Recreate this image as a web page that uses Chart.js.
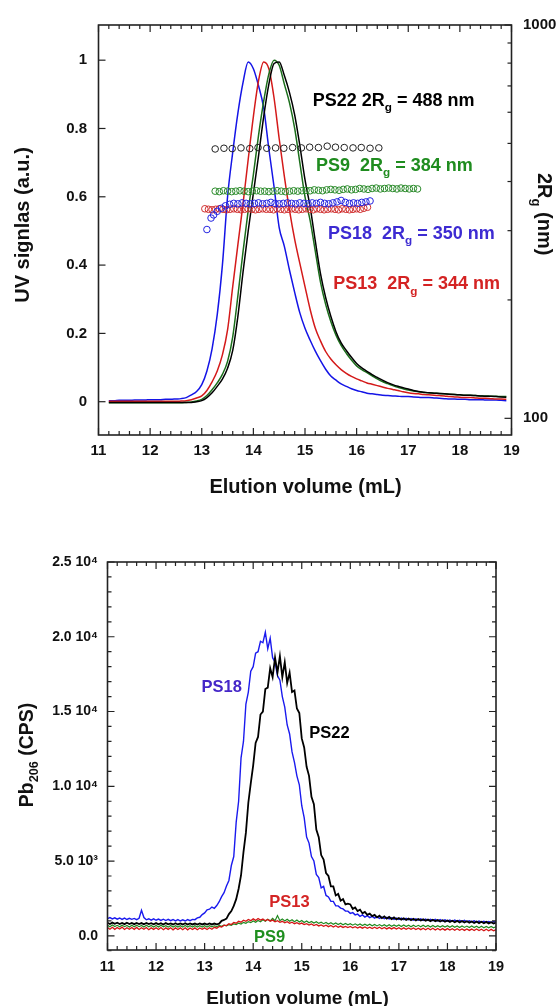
<!DOCTYPE html>
<html>
<head>
<meta charset="utf-8">
<script src="https://cdn.jsdelivr.net/npm/chart.js@4.4.1/dist/chart.umd.min.js"></script>
<style>
html, body { margin: 0; padding: 0; background: #fff; }
canvas { display: block; }
</style>
</head>
<body>
<canvas id="uvChart" width="557" height="500"></canvas>
<canvas id="pbChart" width="557" height="506"></canvas>
<script>
// ---------- top panel: UV signal + 2Rg ----------
const uvVolume = [11.2,11.3,11.4,11.5,11.6,11.7,11.8,11.9,
  12.0,12.1,12.2,12.3,12.4,12.5,12.6,12.7,12.8,12.9,
  13.0,13.1,13.2,13.3,13.4,13.5,13.6,13.7,13.8,13.9,
  14.0,14.1,14.2,14.3,14.4,14.5,14.6,14.7,14.8,14.9,
  15.0,15.1,15.2,15.3,15.4,15.5,15.6,15.7,15.8,15.9,
  16.0,16.1,16.2,16.3,16.4,16.5,16.6,16.7,16.8,16.9,
  17.0,17.1,17.2,17.3,17.4,17.5,17.6,17.7,17.8,17.9,
  18.0,18.1,18.2,18.3,18.4,18.5,18.6,18.7,18.8,18.9];

const uvPS18 = [.003,.003,.004,.004,.004,.005,.005,.005,
  .006,.006,.006,.007,.007,.008,.009,.012,.02,.03,
  .05,.09,.155,.255,.40,.60,.73,.845,.935,.995,
  .975,.925,.86,.74,.63,.51,.455,.385,.32,.26,
  .215,.18,.148,.12,.095,.075,.063,.052,.045,.038,
  .033,.029,.025,.023,.021,.019,.018,.017,.016,.015,
  .015,.014,.013,.012,.012,.011,.010,.009,.008,.008,
  .007,.007,.006,.006,.006,.005,.005,.005,.004,.003];

const uvPS13 = [.001,.001,.001,.001,.001,.001,.001,.001,
  .001,.001,.001,.001,.001,.001,.002,.003,.006,.011,
  .017,.033,.058,.09,.137,.21,.337,.46,.58,.71,
  .835,.94,.995,.975,.89,.77,.66,.56,.475,.405,
  .337,.27,.215,.178,.147,.125,.108,.094,.083,.074,
  .067,.061,.055,.051,.047,.043,.039,.036,.033,.029,
  .026,.024,.023,.021,.020,.019,.018,.017,.015,.014,
  .013,.012,.012,.011,.010,.010,.009,.008,.008,.007];

const uvPS9 = [-.003,-.003,-.003,-.003,-.003,-.003,-.003,-.003,
  -.003,-.003,-.003,-.003,-.003,-.003,-.003,-.002,-.001,.002,
  .007,.018,.035,.055,.08,.118,.19,.31,.44,.56,
  .665,.78,.88,.96,1.0,.985,.93,.875,.80,.70,
  .60,.53,.44,.35,.285,.235,.195,.165,.142,.122,
  .105,.094,.085,.076,.067,.059,.053,.047,.042,.038,
  .034,.031,.029,.027,.026,.025,.024,.023,.022,.021,
  .020,.019,.019,.018,.017,.017,.016,.016,.015,.015];

const uvPS22 = [-.002,-.002,-.002,-.002,-.002,-.002,-.002,-.002,
  -.002,-.002,-.002,-.002,-.002,-.002,-.002,-.002,-.002,0,
  .003,.012,.026,.045,.066,.098,.15,.25,.38,.50,
  .61,.72,.835,.93,.99,.995,.955,.905,.84,.75,
  .65,.57,.47,.375,.305,.25,.205,.172,.15,.13,
  .112,.099,.089,.079,.071,.063,.056,.05,.045,.041,
  .037,.033,.030,.028,.026,.025,.024,.023,.022,.021,
  .020,.019,.019,.018,.017,.016,.016,.015,.014,.013];

// 2Rg (nm) from light scattering, right log axis
const rgPS22Vol = [13.26,13.43,13.59,13.76,13.93,14.09,14.26,14.43,14.59,14.76,
  14.93,15.09,15.26,15.43,15.59,15.76,15.93,16.09,16.26,16.43];
const rgPS22 = [484,486,485,487,485,488,486,487,486,488,487,489,488,492,489,488,487,488,486,487];

const rgPS9Vol = [13.26,13.34,13.42,13.50,13.58,13.66,13.74,13.82,13.90,13.98,
  14.06,14.14,14.22,14.30,14.38,14.46,14.54,14.62,14.70,14.78,
  14.86,14.94,15.02,15.10,15.18,15.26,15.34,15.42,15.50,15.58,
  15.66,15.74,15.82,15.90,15.98,16.06,16.14,16.22,16.30,16.38,
  16.46,16.54,16.62,16.70,16.78,16.86,16.94,17.02,17.10,17.18];
const rgPS9 = [378,377,379,378,377,378,379,378,377,378,
  379,378,378,377,378,379,378,377,378,379,
  378,379,380,379,381,380,379,381,382,381,
  380,382,383,381,382,384,383,382,384,385,
  383,384,385,384,383,385,384,383,384,383];

const rgPS18Vol = [13.10,13.18,13.23,13.30,13.38,13.46,13.54,13.62,13.70,13.78,
  13.86,13.94,14.02,14.10,14.18,14.26,14.34,14.42,14.50,14.58,
  14.66,14.74,14.82,14.90,14.98,15.06,15.14,15.22,15.30,15.38,
  15.46,15.54,15.62,15.70,15.78,15.86,15.94,16.02,16.10,16.18,16.26];
const rgPS18 = [302,323,329,336,342,347,350,352,351,353,
  352,351,352,353,351,352,354,352,351,352,
  353,352,351,353,352,351,353,352,354,352,
  351,353,355,358,354,352,353,352,354,355,357];

const rgPS13Vol = [13.06,13.13,13.20,13.27,13.34,13.41,13.48,13.55,13.62,13.69,
  13.76,13.83,13.90,13.97,14.04,14.11,14.18,14.25,14.32,14.39,
  14.46,14.53,14.60,14.67,14.74,14.81,14.88,14.95,15.02,15.09,
  15.16,15.23,15.30,15.37,15.44,15.51,15.58,15.65,15.72,15.79,
  15.86,15.93,16.00,16.07,16.14,16.21];
const rgPS13 = [341,340,339,340,341,340,339,340,341,340,
  339,340,341,340,339,340,341,340,340,339,
  341,340,339,340,341,340,339,340,341,340,
  339,341,340,339,340,341,340,339,341,340,
  339,340,341,340,342,344];

const volTicks = [11,12,13,14,15,16,17,18,19];
const uvTicks = [0,0.2,0.4,0.6,0.8,1];
const uvTickLabels = ['0','0.2','0.4','0.6','0.8','1'];
const rgTicks = [100,1000];
const rgMinor = [200,300,400,500,600,700,800,900];

// ---------- bottom panel: Pb206 ICP-MS ----------
const pbVolume = [11,11.05,11.1,11.15,11.2,11.25,11.3,11.35,11.4,11.45,
  11.5,11.55,11.6,11.65,11.7,11.75,11.8,11.85,11.9,11.95,
  12,12.05,12.1,12.15,12.2,12.25,12.3,12.35,12.4,12.45,
  12.5,12.55,12.6,12.65,12.7,12.75,12.8,12.85,12.9,12.95,
  13,13.05,13.1,13.15,13.2,13.25,13.3,13.35,13.4,13.45,
  13.5,13.55,13.6,13.65,13.7,13.75,13.8,13.85,13.9,13.95,
  14,14.05,14.1,14.15,14.2,14.25,14.3,14.35,14.4,14.45,
  14.5,14.55,14.6,14.65,14.7,14.75,14.8,14.85,14.9,14.95,
  15,15.05,15.1,15.15,15.2,15.25,15.3,15.35,15.4,15.45,
  15.5,15.55,15.6,15.65,15.7,15.75,15.8,15.85,15.9,15.95,
  16,16.05,16.1,16.15,16.2,16.25,16.3,16.35,16.4,16.45,
  16.5,16.55,16.6,16.65,16.7,16.75,16.8,16.85,16.9,16.95,
  17,17.05,17.1,17.15,17.2,17.25,17.3,17.35,17.4,17.45,
  17.5,17.55,17.6,17.65,17.7,17.75,17.8,17.85,17.9,17.95,
  18,18.05,18.1,18.15,18.2,18.25,18.3,18.35,18.4,18.45,
  18.5,18.55,18.6,18.65,18.7,18.75,18.8,18.85,18.9,18.95,
  19];

const pbPS18 = [1150,1220,1130,1200,1110,1190,1100,1180,1090,1170,
  1100,1160,1080,1170,1700,1220,1070,1140,1050,1130,
  1040,1120,1030,1110,1020,1100,1010,1090,1000,1080,
  990,1070,990,1080,1010,1100,1080,1200,1240,1420,
  1530,1740,1780,1920,1840,2020,2280,2620,2880,3330,
  3700,4700,5300,7600,9000,11900,13000,15500,16300,17700,
  18000,18900,19000,19700,19600,20300,19200,19900,18600,18300,
  17400,17100,16000,15300,14100,13500,12300,11600,10700,10100,
  8700,7900,6600,6200,5300,5000,4100,3900,3200,3300,
  2700,2600,2300,2300,2000,2000,1850,1800,1650,1650,
  1500,1550,1400,1450,1300,1400,1250,1350,1220,1300,
  1180,1280,1160,1250,1140,1230,1120,1210,1100,1190,
  1090,1180,1080,1170,1070,1150,1050,1140,1040,1130,
  1030,1120,1020,1110,1010,1100,1000,1090,990,1070,
  980,1060,970,1050,960,1040,950,1030,940,1010,
  930,1000,920,990,910,970,900,960,890,950,
  930];

const pbPS22 = [870,790,880,800,870,790,860,780,870,790,
  860,780,860,790,850,770,860,780,840,770,
  850,770,840,760,850,770,830,760,840,760,
  830,760,840,750,830,760,820,750,830,760,
  820,750,830,760,820,770,810,1000,1060,1150,
  1450,1650,2000,2450,3150,4050,5600,6900,8900,10200,
  11400,12900,13300,14800,15000,16500,16600,17900,17300,18600,
  17600,18700,17300,18300,16900,17600,16300,16400,15200,14900,
  13200,12600,11300,10700,9300,8800,7100,6600,5400,5100,
  4200,4000,3300,3300,2700,2800,2350,2450,2100,2150,
  2100,1800,1900,1650,1750,1500,1600,1400,1480,1320,
  1400,1230,1340,1180,1300,1150,1260,1120,1230,1100,
  1190,1080,1170,1060,1150,1040,1140,1030,1120,1020,
  1100,1000,1080,980,1070,970,1050,960,1040,940,
  1020,930,1010,910,1000,900,990,890,970,880,
  960,860,950,850,940,840,930,830,910,820,
  880];

const pbPS13 = [560,440,570,430,550,450,580,420,540,440,
  550,430,560,420,540,440,550,410,530,430,
  540,420,550,410,530,430,540,400,530,420,
  530,410,540,400,520,420,530,410,520,430,
  530,420,540,440,570,510,630,590,710,680,
  800,750,890,840,970,910,1040,970,1090,1010,
  1130,1030,1160,1050,1120,1010,1090,980,1050,940,
  1010,900,970,870,940,840,910,810,880,780,
  850,750,810,720,790,690,760,660,730,640,
  710,610,690,590,670,570,650,560,630,550,
  620,530,610,520,600,510,590,500,580,490,
  570,480,570,470,560,460,550,460,550,450,
  540,440,530,430,520,430,520,420,510,410,
  510,400,500,400,500,390,490,390,480,380,
  480,380,470,370,470,370,460,360,460,360,
  450,350,450,350,440,340,440,340,430,330,
  410];

const pbPS9 = [710,610,720,620,700,600,710,610,690,590,
  700,600,710,610,690,590,700,600,690,590,
  690,590,700,600,680,580,690,590,680,580,
  680,580,690,590,670,580,680,580,670,590,
  670,590,680,600,670,610,690,630,710,670,
  750,700,800,750,850,790,900,840,950,880,
  990,910,1030,940,1070,970,1100,1000,1160,1010,
  1350,1010,1130,990,1110,970,1070,940,1050,920,
  1020,890,990,870,960,850,940,830,910,810,
  890,790,870,770,860,750,840,740,830,730,
  810,710,800,700,790,690,780,680,770,670,
  760,660,750,650,740,640,740,640,730,630,
  730,620,720,620,710,610,710,610,700,600,
  700,600,690,590,690,590,680,580,680,580,
  670,570,670,570,660,560,660,560,650,550,
  650,550,640,540,640,540,630,530,630,530,
  610];

const pbTicks = [0,5000,10000,15000,20000,25000];
const pbTickLabels = ['0.0','5.0 10\u00B3','1.0 10\u2074','1.5 10\u2074','2.0 10\u2074','2.5 10\u2074'];

// ---------- helpers ----------
const FONT = '"Liberation Sans", Arial, Helvetica, sans-serif';
Chart.defaults.font.family = FONT;
Chart.defaults.font.weight = 'bold';
Chart.defaults.color = '#111';

function pts(xs, ys) {
  return xs.map((x, i) => ({ x: x, y: ys[i] }));
}

function range(from, to, step) {
  const out = [];
  for (let i = 0; from + i * step <= to + 1e-9; i++) out.push(+(from + i * step).toFixed(4));
  return out;
}

// text with optional subscript pieces
function rich(ctx, x, y, parts, size, color, opts) {
  opts = opts || {};
  ctx.save();
  ctx.translate(x, y);
  if (opts.rot) ctx.rotate(opts.rot);
  ctx.fillStyle = color;
  ctx.textBaseline = 'alphabetic';
  ctx.textAlign = 'left';
  const fontOf = p => 'bold ' + (p.sub ? size * 0.65 : size) + 'px ' + FONT;
  let total = 0;
  parts.forEach(p => { ctx.font = fontOf(p); total += ctx.measureText(p.t).width; });
  let cx = opts.center ? -total / 2 : 0;
  parts.forEach(p => {
    ctx.font = fontOf(p);
    ctx.fillText(p.t, cx, p.sub ? size * 0.3 : 0);
    cx += ctx.measureText(p.t).width;
  });
  ctx.restore();
}

// inward tick marks
function ticks(chart, id, major, minor, sides) {
  const s = chart.scales[id], a = chart.chartArea, ctx = chart.ctx;
  ctx.save();
  ctx.strokeStyle = '#222';
  ctx.lineWidth = 1.2;
  const mark = (v, len) => {
    const p = s.getPixelForValue(v);
    ctx.beginPath();
    if (s.isHorizontal()) {
      if (sides.includes('b')) { ctx.moveTo(p, a.bottom); ctx.lineTo(p, a.bottom - len); }
      if (sides.includes('t')) { ctx.moveTo(p, a.top); ctx.lineTo(p, a.top + len); }
    } else {
      if (sides.includes('l')) { ctx.moveTo(a.left, p); ctx.lineTo(a.left + len, p); }
      if (sides.includes('r')) { ctx.moveTo(a.right, p); ctx.lineTo(a.right - len, p); }
    }
    ctx.stroke();
  };
  major.forEach(v => mark(v, 7));
  minor.forEach(v => mark(v, 4));
  ctx.restore();
}

function frame(chart) {
  const a = chart.chartArea, ctx = chart.ctx;
  ctx.save();
  ctx.strokeStyle = '#222';
  ctx.lineWidth = 1.6;
  ctx.strokeRect(a.left, a.top, a.right - a.left, a.bottom - a.top);
  ctx.restore();
}

function axisX(ticksPad, fitH, size) {
  return {
    type: 'linear', min: 11, max: 19,
    grid: { display: false, drawTicks: false },
    border: { display: false },
    afterBuildTicks: s => { s.ticks = volTicks.map(v => ({ value: v })); },
    afterFit: s => { s.height = fitH; },
    ticks: { padding: ticksPad, autoSkip: false, maxRotation: 0, font: { size: size, weight: 'bold' }, color: '#111',
      callback: v => String(v) }
  };
}

const common = {
  responsive: false,
  animation: false,
  events: [],
  plugins: { legend: { display: false }, tooltip: { enabled: false } }
};

// ---------- top chart ----------
const uvPlugin = {
  id: 'uvDecor',
  afterDatasetsDraw(chart) {
    const ctx = chart.ctx;
    frame(chart);
    ticks(chart, 'x', volTicks, range(11, 19, 0.2).filter(v => !volTicks.includes(v)), 'bt');
    ticks(chart, 'y', uvTicks, [], 'l');
    ticks(chart, 'y2', rgTicks, rgMinor, 'r');
    rich(ctx, 312.7, 105.7, [{ t: 'PS22 2R' }, { t: 'g', sub: true }, { t: ' = 488 nm' }], 18, '#000');
    rich(ctx, 316, 170.6, [{ t: 'PS9  2R' }, { t: 'g', sub: true }, { t: ' = 384 nm' }], 18, '#1f8c1f');
    rich(ctx, 328, 239, [{ t: 'PS18  2R' }, { t: 'g', sub: true }, { t: ' = 350 nm' }], 18, '#3d2bd2');
    rich(ctx, 333.3, 289.3, [{ t: 'PS13  2R' }, { t: 'g', sub: true }, { t: ' = 344 nm' }], 18, '#d42323');
    rich(ctx, 28.5, 225, [{ t: 'UV signlas (a.u.)' }], 20, '#111', { rot: -Math.PI / 2, center: true });
    rich(ctx, 538.4, 173, [{ t: '2R' }, { t: 'g', sub: true }, { t: ' (nm)' }], 20, '#111', { rot: Math.PI / 2 });
    rich(ctx, 305.5, 493.3, [{ t: 'Elution volume (mL)' }], 20, '#111', { center: true });
  }
};

function uvLine(ys, color) {
  return { data: pts(uvVolume, ys), borderColor: color, borderWidth: 1.5, pointRadius: 0,
    cubicInterpolationMode: 'monotone', yAxisID: 'y' };
}
function rgDots(xs, ys, color) {
  return { data: pts(xs, ys), showLine: false, borderColor: color, backgroundColor: 'rgba(0,0,0,0)',
    pointRadius: 3.3, pointBorderWidth: 1, yAxisID: 'y2' };
}

new Chart(document.getElementById('uvChart'), {
  type: 'line',
  data: {
    datasets: [
      rgDots(rgPS22Vol, rgPS22, '#222'),
      rgDots(rgPS9Vol, rgPS9, '#2a8a2a'),
      rgDots(rgPS18Vol, rgPS18, '#2323e0'),
      rgDots(rgPS13Vol, rgPS13, '#d03030'),
      uvLine(uvPS22, '#000'),
      uvLine(uvPS9, '#1b6e1b'),
      uvLine(uvPS13, '#d41a1a'),
      uvLine(uvPS18, '#1414e6')
    ]
  },
  options: Object.assign({}, common, {
    layout: { padding: { top: 25, left: 0, right: 0, bottom: 0 } },
    scales: {
      x: axisX(6.7, 65, 15),
      y: {
        type: 'linear', position: 'left', min: -0.0975, max: 1.103,
        grid: { display: false, drawTicks: false }, border: { display: false },
        afterBuildTicks: s => { s.ticks = uvTicks.map(v => ({ value: v })); },
        afterFit: s => { s.width = 98.5; },
        ticks: { padding: 11.5, font: { size: 15, weight: 'bold' }, color: '#111',
          callback: v => uvTickLabels[uvTicks.indexOf(v)] }
      },
      y2: {
        type: 'logarithmic', position: 'right', min: 90.7, max: 1000,
        grid: { display: false, drawTicks: false }, border: { display: false },
        afterBuildTicks: s => { s.ticks = rgTicks.map(v => ({ value: v })); },
        afterFit: s => { s.width = 45.5; },
        ticks: { padding: 11.5, font: { size: 15, weight: 'bold' }, color: '#111',
          callback: v => String(v) }
      }
    }
  }),
  plugins: [uvPlugin]
});

// ---------- bottom chart ----------
const pbPlugin = {
  id: 'pbDecor',
  afterDatasetsDraw(chart) {
    const ctx = chart.ctx;
    frame(chart);
    ticks(chart, 'x', volTicks, range(11, 19, 0.2).filter(v => !volTicks.includes(v)), 'bt');
    ticks(chart, 'y', pbTicks, range(-1000, 24000, 1000).filter(v => !pbTicks.includes(v)), 'lr');
    rich(ctx, 201.5, 191.7, [{ t: 'PS18' }], 16.5, '#4527c8');
    rich(ctx, 309.3, 238.3, [{ t: 'PS22' }], 16.5, '#000');
    rich(ctx, 269.3, 407.3, [{ t: 'PS13' }], 16.5, '#d42424');
    rich(ctx, 254, 442.3, [{ t: 'PS9' }], 16.5, '#1f8f1f');
    rich(ctx, 32.5, 255, [{ t: 'Pb' }, { t: '206', sub: true }, { t: ' (CPS)' }], 19.5, '#111', { rot: -Math.PI / 2, center: true });
    rich(ctx, 297.5, 503.5, [{ t: 'Elution volume (mL)' }], 19, '#111', { center: true });
  }
};

function pbLine(ys, color, w) {
  return { data: pts(pbVolume, ys), borderColor: color, borderWidth: w, pointRadius: 0, tension: 0 };
}

new Chart(document.getElementById('pbChart'), {
  type: 'line',
  data: {
    datasets: [
      pbLine(pbPS22, '#000', 1.8),
      pbLine(pbPS18, '#1a1aee', 1.4),
      pbLine(pbPS13, '#d41616', 1.3),
      pbLine(pbPS9, '#1f8a1f', 1.2)
    ]
  },
  options: Object.assign({}, common, {
    layout: { padding: { top: 62, left: 0, right: 61, bottom: 0 } },
    scales: {
      x: axisX(8, 56, 14.5),
      y: {
        type: 'linear', position: 'left', min: -950, max: 25000,
        grid: { display: false, drawTicks: false }, border: { display: false },
        afterBuildTicks: s => { s.ticks = pbTicks.map(v => ({ value: v })); },
        afterFit: s => { s.width = 107.5; },
        ticks: { padding: 9.5, font: { size: 14, weight: 'bold' }, color: '#111',
          callback: v => pbTickLabels[pbTicks.indexOf(v)] }
      }
    }
  }),
  plugins: [pbPlugin]
});
</script>
</body>
</html>
